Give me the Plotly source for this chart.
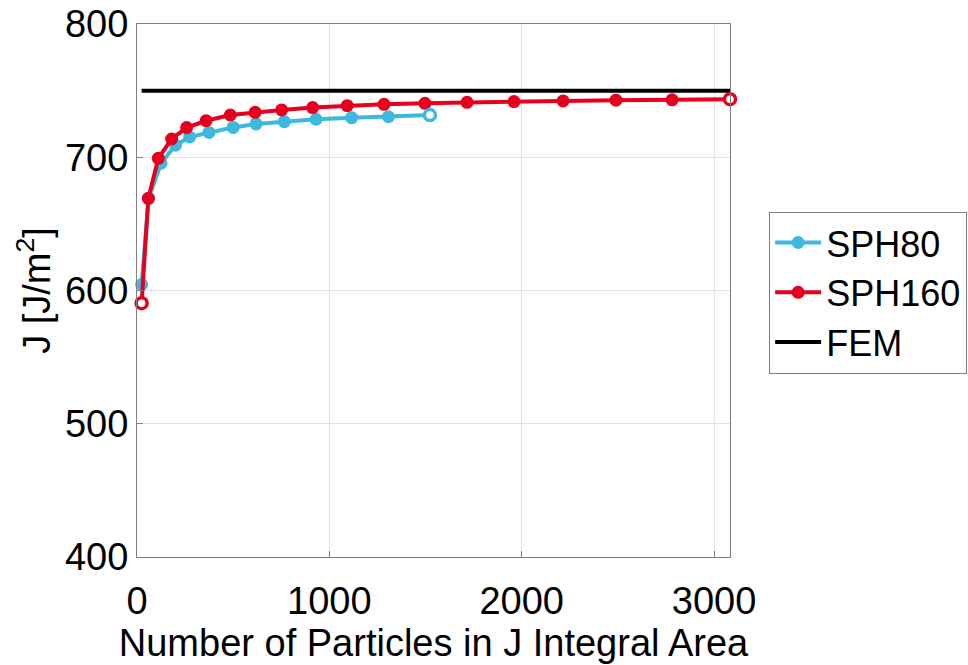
import plotly.graph_objects as go

# J integral versus number of particles inside the integration area
sph160_n = [24, 59, 111, 180, 258, 359, 485, 614, 752, 913, 1093, 1284, 1497,
            1716, 1960, 2215, 2490, 2782, 3083]
sph160_j = [590.5, 669.2, 699.2, 713.7, 722.3, 727.4, 731.7, 733.7, 735.5, 737.3,
            738.7, 739.7, 740.5, 741.2, 741.8, 742.3, 742.8, 743.1, 743.6]

sph80_n = [24, 60, 125, 200, 274, 374, 500, 619, 766, 931, 1116, 1307, 1523]
sph80_j = [604.5, 669.0, 695.5, 709.0, 715.2, 718.6, 722.4, 725.0, 726.7, 728.5,
           729.7, 730.4, 731.7]

fem_j = 750.0
fem_n = [sph160_n[0], sph160_n[-1]]

x_ticks = [0, 1000, 2000, 3000]
y_ticks = [400, 500, 600, 700, 800]

BLUE = "#3CB9DD"
RED = "#E6001E"
BLACK = "#000000"
FONT = "Liberation Sans, Arial, sans-serif"
FS = 38

fig = go.Figure()

fig.add_trace(go.Scatter(
    x=sph80_n, y=sph80_j, mode="lines+markers", name="SPH80",
    line=dict(color=BLUE, width=4),
    marker=dict(color=BLUE, size=13, line=dict(width=0)),
    cliponaxis=False, legendgroup="a",
))
fig.add_trace(go.Scatter(
    x=sph160_n, y=sph160_j, mode="lines+markers", name="SPH160",
    line=dict(color=RED, width=4),
    marker=dict(color=RED, size=13, line=dict(width=0)),
    cliponaxis=False, legendgroup="b",
))
fig.add_trace(go.Scatter(
    x=fem_n, y=[fem_j, fem_j], mode="lines", name="FEM",
    line=dict(color=BLACK, width=4),
    cliponaxis=False, legendgroup="c",
))

# hollow end markers
fig.add_trace(go.Scatter(
    x=[sph80_n[-1]], y=[sph80_j[-1]], mode="markers", showlegend=False,
    marker=dict(color="white", size=11, line=dict(color=BLUE, width=3.5)),
    cliponaxis=False,
))
fig.add_trace(go.Scatter(
    x=[sph160_n[0], sph160_n[-1]], y=[sph160_j[0], sph160_j[-1]],
    mode="markers", showlegend=False,
    marker=dict(color="white", size=11, line=dict(color=RED, width=3.5)),
    cliponaxis=False,
))

axis_common = dict(
    showline=True, linecolor="#808080", linewidth=1.2, mirror=True,
    ticks="inside", ticklen=6, tickcolor="#808080", tickwidth=1,
    showgrid=True, gridcolor="#E3E3E3", gridwidth=1,
    zeroline=False, automargin=False,
    tickfont=dict(family=FONT, size=FS, color="black"),
)

fig.update_xaxes(
    range=[0, 3083], tickvals=x_ticks, ticktext=[str(v) for v in x_ticks],
    title=dict(text="Number of Particles in J Integral Area",
               font=dict(family=FONT, size=FS, color="black"), standoff=2),
    ticklabelstandoff=10,
    **axis_common,
)
fig.update_yaxes(
    range=[400, 800], tickvals=y_ticks, ticktext=[str(v) for v in y_ticks],
    title=dict(text="J [J/m<sup>2</sup>]",
               font=dict(family=FONT, size=FS, color="black"), standoff=2),
    ticklabelstandoff=0,
    **axis_common,
)

fig.update_layout(
    width=968, height=665,
    margin=dict(l=137, r=238, t=24, b=108, autoexpand=False),
    paper_bgcolor="white", plot_bgcolor="white",
    font=dict(family=FONT, size=FS, color="black"),
    showlegend=True,
    legend=dict(
        x=1.066, y=0.648, xanchor="left", yanchor="top",
        bgcolor="white", bordercolor="#808080", borderwidth=1,
        font=dict(family=FONT, size=36, color="black"),
        tracegroupgap=0, traceorder="grouped", itemwidth=46,
    ),
)

fig.write_html("out.html")
